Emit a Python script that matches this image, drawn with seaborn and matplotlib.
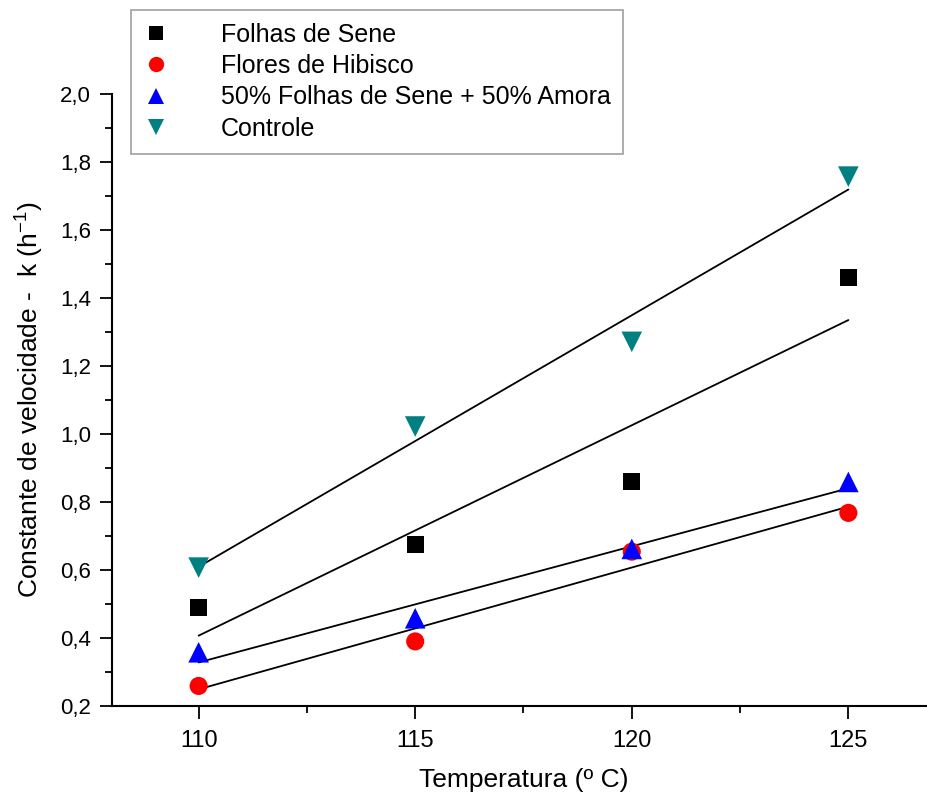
import matplotlib
matplotlib.use("Agg")
import matplotlib.pyplot as plt
from matplotlib.ticker import MultipleLocator, FuncFormatter
from matplotlib.lines import Line2D
import numpy as np
import pandas as pd
import seaborn as sns

# Temperatures (ºC) and rate constants k (h^-1) for each sample
temperatura = [110, 115, 120, 125]
folhas_sene = [0.49, 0.674, 0.861, 1.459]
flores_hibisco = [0.259, 0.390, 0.654, 0.768]
sene_amora = [0.358, 0.458, 0.662, 0.859]
controle = [0.607, 1.022, 1.271, 1.757]

series_names = [
    "Folhas de Sene",
    "Flores de Hibisco",
    "50% Folhas de Sene + 50% Amora",
    "Controle",
]
series_values = [folhas_sene, flores_hibisco, sene_amora, controle]
colors = ["#000000", "#ff0000", "#0000ff", "#008080"]
markers = ["s", "o", "^", "v"]
sizes = [150, 170, 220, 220]

df = pd.DataFrame(
    [(n, t, v) for n, vals in zip(series_names, series_values) for t, v in zip(temperatura, vals)],
    columns=["amostra", "temperatura", "k"],
)

sns.set_style("ticks")
plt.rcParams["font.family"] = ["Liberation Sans", "DejaVu Sans"]
plt.rcParams["mathtext.fontset"] = "custom"
plt.rcParams["mathtext.rm"] = "Liberation Sans"
plt.rcParams["mathtext.it"] = "Liberation Sans"
plt.rcParams["text.color"] = "black"
plt.rcParams["axes.labelcolor"] = "black"
plt.rcParams["xtick.color"] = "black"
plt.rcParams["ytick.color"] = "black"

fig = plt.figure(figsize=(9.27, 8.0), dpi=100)
ax = fig.add_axes([112 / 927, 94 / 800, 823 / 927, 612 / 800])

# linear fits behind the points
for name, col in zip(series_names, colors):
    sub = df[df["amostra"] == name]
    sns.regplot(data=sub, x="temperatura", y="k", ax=ax, scatter=False, ci=None,
                truncate=True, line_kws=dict(color="black", lw=1.3, zorder=2))

for name, col, mk, sz in zip(series_names, colors, markers, sizes):
    sub = df[df["amostra"] == name]
    sns.scatterplot(data=sub, x="temperatura", y="k", ax=ax, color=col, marker=mk,
                    s=sz, edgecolor="none", linewidth=0, zorder=3, legend=False)

ax.set_xlim(108, 127)
ax.set_ylim(0.2, 2.0)
ax.xaxis.set_major_locator(MultipleLocator(5))
ax.xaxis.set_minor_locator(MultipleLocator(2.5))
ax.yaxis.set_major_locator(MultipleLocator(0.2))
ax.yaxis.set_minor_locator(MultipleLocator(0.1))
ax.yaxis.set_major_formatter(FuncFormatter(lambda v, p: f"{v:.1f}".replace(".", ",")))

ax.spines["top"].set_visible(False)
ax.spines["right"].set_visible(False)
for s in ("left", "bottom"):
    ax.spines[s].set_linewidth(1.5)
    ax.spines[s].set_color("black")

ax.tick_params(axis="both", which="major", direction="out", length=9, width=1.3, color="black")
ax.tick_params(axis="both", which="minor", direction="out", length=5, width=1.3, color="black")
ax.tick_params(axis="x", which="major", labelsize=17, pad=8)
ax.tick_params(axis="y", which="major", labelsize=16, pad=6)

ax.set_xlabel("Temperatura (º C)", fontsize=19, labelpad=12)
ax.set_ylabel(r"Constante de velocidade -  k (h$^{\mathregular{-1}}$)", fontsize=19, labelpad=10)

handles = [
    Line2D([], [], ls="none", marker=mk, color=col, markersize=ms, markeredgewidth=0)
    for col, mk, ms in zip(colors, markers, [10, 11, 12, 12])
]
leg = fig.legend(handles, series_names, loc="upper left",
                 bbox_to_anchor=(131 / 927, 1 - 10 / 800), fontsize=18,
                 frameon=True, fancybox=False, borderpad=0.5, labelspacing=0.3,
                 handletextpad=2.1, borderaxespad=0, handlelength=1.0)
leg.get_frame().set_edgecolor("#888888")
leg.get_frame().set_linewidth(1.2)

fig.savefig("out.png", dpi=100)
